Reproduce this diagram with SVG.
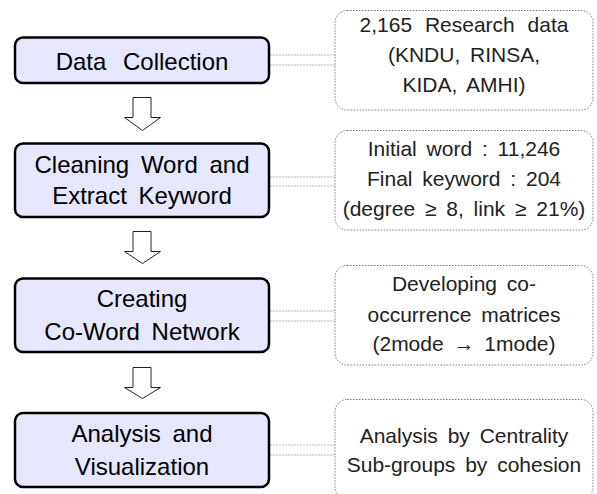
<svg xmlns="http://www.w3.org/2000/svg" width="597" height="494" viewBox="0 0 597 494">
<style>
.step{fill:#e6e6fc;stroke:#000;stroke-width:2.5}
.note{fill:#fff;stroke:#777;stroke-width:1;stroke-dasharray:1.5 1.5}
.lt{font-family:"Liberation Sans",Arial,sans-serif;font-size:24px;fill:#000;text-anchor:middle;word-spacing:5px}
.rt{font-family:"Liberation Sans",Arial,sans-serif;font-size:21px;fill:#222;text-anchor:middle;word-spacing:4px}
.conn{stroke:#bbb;stroke-width:1;stroke-dasharray:2 1;fill:none}
.arr{fill:#fff;stroke:#222;stroke-width:1}
</style>
<rect width="597" height="494" fill="#fff"/>
<g id="connectors">
<path class="conn" d="M270 55H335M270 65H335"/>
<path class="conn" d="M270 177H335M270 186H335"/>
<path class="conn" d="M270 311H335M270 321H335"/>
<path class="conn" d="M270 445H335M270 455H335"/>
<path class="arr" d="M133 97.5H151V117.5H160.5L142.5 130.5L124.5 117.5H133Z"/>
<path class="arr" d="M133 231.5H151V251.5H160.5L142.5 263.5L124.5 251.5H133Z"/>
<path class="arr" d="M133 367.5H151V387.5H160.5L142.5 398.5L124.5 387.5H133Z"/>
</g>
<g id="step1">
<rect class="step" x="15" y="37.5" width="254" height="45.5" rx="8"/>
<text class="lt" x="142" y="70" style="word-spacing:10px">Data Collection</text>
</g>
<g id="step2">
<rect class="step" x="15" y="143.5" width="254" height="73.5" rx="8"/>
<text class="lt" x="142" y="173">Cleaning Word and</text>
<text class="lt" x="142" y="204">Extract Keyword</text>
</g>
<g id="step3">
<rect class="step" x="15" y="278.5" width="254" height="73.5" rx="8"/>
<text class="lt" x="142" y="307">Creating</text>
<text class="lt" x="142" y="340">Co-Word Network</text>
</g>
<g id="step4">
<rect class="step" x="15" y="413" width="254" height="74" rx="8"/>
<text class="lt" x="142" y="442">Analysis and</text>
<text class="lt" x="142" y="475">Visualization</text>
</g>
<g id="note1">
<rect class="note" x="335" y="10.5" width="258" height="99.5" rx="12"/>
<text class="rt" x="464" y="32" style="word-spacing:7px">2,165 Research data</text>
<text class="rt" x="464" y="62">(KNDU, RINSA,</text>
<text class="rt" x="464" y="92">KIDA, AMHI)</text>
</g>
<g id="note2">
<rect class="note" x="335" y="130.5" width="258" height="99.5" rx="12"/>
<text class="rt" x="464" y="156">Initial word : 11,246</text>
<text class="rt" x="464" y="186">Final keyword : 204</text>
<text class="rt" x="464" y="216">(degree ≥ 8, link ≥ 21%)</text>
</g>
<g id="note3">
<rect class="note" x="335" y="265.5" width="258" height="99.5" rx="12"/>
<text class="rt" x="464" y="291">Developing co-</text>
<text class="rt" x="464" y="322">occurrence matrices</text>
<text class="rt" x="464" y="351">(2mode → 1mode)</text>
</g>
<g id="note4">
<rect class="note" x="335" y="399.5" width="258" height="100" rx="12"/>
<text class="rt" x="464" y="443">Analysis by Centrality</text>
<text class="rt" x="464" y="472">Sub-groups by cohesion</text>
</g>
</svg>
